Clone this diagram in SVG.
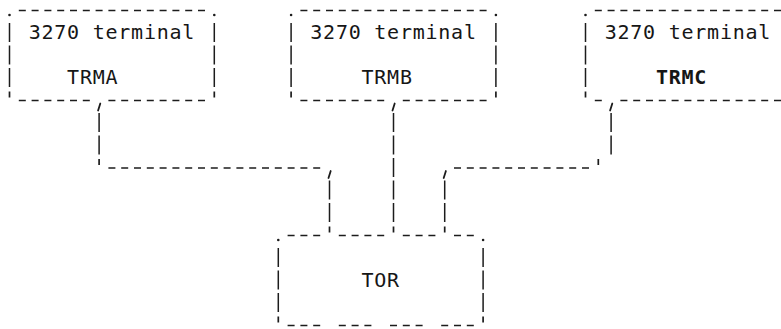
<svg xmlns="http://www.w3.org/2000/svg" width="781" height="329" viewBox="0 0 781 329">
<style>
  .bg{fill:#ffffff}
  .h{stroke:#1c1c1c;stroke-width:1.5;stroke-dasharray:7 5.8;fill:none}
  .v{stroke:#1c1c1c;stroke-width:1.5;stroke-dasharray:19 3.5;fill:none}
  .tk{stroke:#1c1c1c;stroke-width:1.7;fill:none}
  .cm{stroke:#1c1c1c;stroke-width:1.8;fill:none;stroke-linecap:round}
  .dt{fill:#1c1c1c}
  .t{font-family:"DejaVu Sans Mono","Liberation Mono",monospace;font-size:20px;letter-spacing:0.76px;fill:#161616}
  .b{font-weight:bold}
</style>
<rect class="bg" x="0" y="0" width="781" height="329"/>

<g id="node-trma">
  <circle class="dt" cx="9.5" cy="15" r="1.3"/>
  <circle class="dt" cx="214.3" cy="15" r="1.3"/>
  <line class="h" x1="18.8" y1="10.5" x2="205" y2="10.5"/>
  <line class="v" x1="9.5" y1="23" x2="9.5" y2="87"/>
  <line class="v" x1="214.3" y1="23" x2="214.3" y2="87"/>
  <line class="tk" x1="9.5" y1="91.5" x2="9.5" y2="97.5"/>
  <line class="tk" x1="214.3" y1="91.5" x2="214.3" y2="97.5"/>
  <line class="h" x1="18.8" y1="100.5" x2="89.8" y2="100.5"/>
  <line class="h" x1="108.4" y1="100.5" x2="205" y2="100.5"/>
  <text class="t" x="28.7" y="39">3270 terminal</text>
  <text class="t" x="67.1" y="84">TRMA</text>
</g>

<g id="node-trmb">
  <circle class="dt" cx="291.1" cy="15" r="1.3"/>
  <circle class="dt" cx="495.9" cy="15" r="1.3"/>
  <line class="h" x1="300.4" y1="10.5" x2="486.6" y2="10.5"/>
  <line class="v" x1="291.1" y1="23" x2="291.1" y2="87"/>
  <line class="v" x1="495.9" y1="23" x2="495.9" y2="87"/>
  <line class="tk" x1="291.1" y1="91.5" x2="291.1" y2="97.5"/>
  <line class="tk" x1="495.9" y1="91.5" x2="495.9" y2="97.5"/>
  <line class="h" x1="300.4" y1="100.5" x2="384.2" y2="100.5"/>
  <line class="h" x1="402.8" y1="100.5" x2="486.6" y2="100.5"/>
  <text class="t" x="310.3" y="39">3270 terminal</text>
  <text class="t" x="361.5" y="84">TRMB</text>
</g>

<g id="node-trmc">
  <circle class="dt" cx="585.5" cy="15" r="1.3"/>
  <line class="h" x1="594.8" y1="10.5" x2="781" y2="10.5"/>
  <line class="v" x1="585.5" y1="23" x2="585.5" y2="87"/>
  <line class="tk" x1="585.5" y1="91.5" x2="585.5" y2="97.5"/>
  <line class="h" x1="594.8" y1="100.5" x2="601.8" y2="100.5"/>
  <line class="h" x1="620.4" y1="100.5" x2="781" y2="100.5"/>
  <text class="t" x="604.7" y="39">3270 terminal</text>
  <text class="t b" x="655.9" y="84">TRMC</text>
</g>

<g id="node-tor">
  <circle class="dt" cx="278.3" cy="240" r="1.3"/>
  <circle class="dt" cx="483.1" cy="240" r="1.3"/>
  <line class="h" x1="287.6" y1="235.5" x2="320.2" y2="235.5"/>
  <line class="h" x1="338.8" y1="235.5" x2="384.2" y2="235.5"/>
  <line class="h" x1="402.8" y1="235.5" x2="435.4" y2="235.5"/>
  <line class="h" x1="454" y1="235.5" x2="473.8" y2="235.5"/>
  <line class="v" x1="278.3" y1="248" x2="278.3" y2="312"/>
  <line class="v" x1="483.1" y1="248" x2="483.1" y2="312"/>
  <line class="tk" x1="278.3" y1="316.5" x2="278.3" y2="322.5"/>
  <line class="tk" x1="483.1" y1="316.5" x2="483.1" y2="322.5"/>
  <line class="h" x1="287.6" y1="325.5" x2="320.2" y2="325.5"/>
  <line class="h" x1="338.8" y1="325.5" x2="371.4" y2="325.5"/>
  <line class="h" x1="390" y1="325.5" x2="422.6" y2="325.5"/>
  <line class="h" x1="441.2" y1="325.5" x2="473.8" y2="325.5"/>
  <text class="t" x="361.5" y="286.5">TOR</text>
</g>

<g id="connectors">
  <!-- TRMA to TOR -->
  <path class="cm" d="M100.3 103.5 L98.1 110.5"/>
  <line class="v" x1="99.1" y1="113" x2="99.1" y2="154.5"/>
  <line class="tk" x1="99.1" y1="159" x2="99.1" y2="165"/>
  <line class="h" x1="108.4" y1="168" x2="320.2" y2="168"/>
  <path class="cm" d="M330.7 171 L328.5 178"/>
  <line class="v" x1="329.5" y1="180.5" x2="329.5" y2="222"/>
  <line class="tk" x1="329.5" y1="226.5" x2="329.5" y2="232.5"/>
  <!-- TRMB to TOR -->
  <path class="cm" d="M394.7 103.5 L392.5 110.5"/>
  <line class="v" x1="393.5" y1="113" x2="393.5" y2="222"/>
  <line class="tk" x1="393.5" y1="226.5" x2="393.5" y2="232.5"/>
  <!-- TRMC to TOR -->
  <path class="cm" d="M612.3 103.5 L610.1 110.5"/>
  <line class="v" x1="611.1" y1="113" x2="611.1" y2="154.5"/>
  <line class="tk" x1="598.3" y1="159" x2="598.3" y2="165"/>
  <line class="h" x1="454" y1="168" x2="589" y2="168"/>
  <path class="cm" d="M445.9 171 L443.7 178"/>
  <line class="v" x1="444.7" y1="180.5" x2="444.7" y2="222"/>
  <line class="tk" x1="444.7" y1="226.5" x2="444.7" y2="232.5"/>
</g>
</svg>
